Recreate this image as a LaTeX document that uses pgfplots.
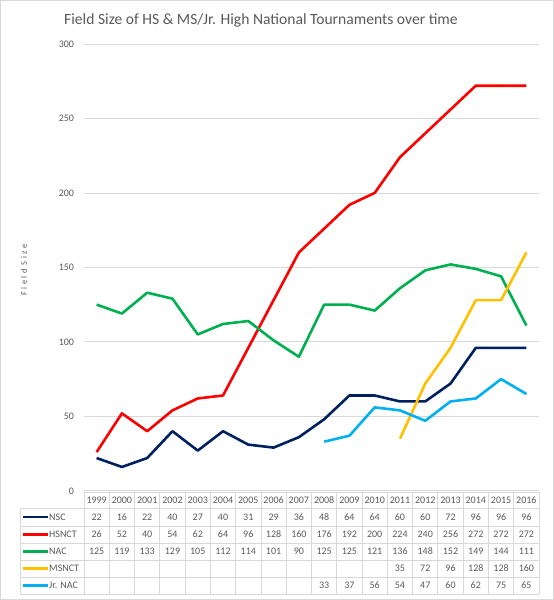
\documentclass[border=0pt]{standalone}
\usepackage{pgfplots}
\pgfplotsset{compat=1.18}
\usepackage{fontspec}
\setmainfont{Carlito}
\definecolor{nsc}{HTML}{002060}
\definecolor{hsnct}{HTML}{FF0000}
\definecolor{nac}{HTML}{00B050}
\definecolor{msnct}{HTML}{FFC000}
\definecolor{jrnac}{HTML}{00B0F0}
\definecolor{txt}{HTML}{595959}
\definecolor{grid}{HTML}{D9D9D9}
\begin{document}
\begin{tikzpicture}[x=1pt,y=1pt]
\draw[draw=grid, line width=1pt] (0.5,0.5) rectangle (553.5,599.5);
\begin{axis}[at={(84pt,109.2pt)}, anchor=south west, scale only axis,
  width=455pt, height=446.8pt, xmin=-0.5, xmax=17.5, ymin=0, ymax=300,
  ytick={0,50,...,300}, xtick=\empty, axis line style={draw=none},
  ymajorgrids, grid style={color=grid, line width=0.8pt}, major tick length=0pt,
  yticklabel style={font=\fontsize{10}{12}\selectfont, text=txt, xshift=-6.5pt},
  /pgf/number format/assume math mode=true,
  every axis plot/.append style={line width=2.6pt, no markers, line join=round}]
\addplot[nsc] coordinates {(0,22)(1,16)(2,22)(3,40)(4,27)(5,40)(6,31)(7,29)(8,36)(9,48)(10,64)(11,64)(12,60)(13,60)(14,72)(15,96)(16,96)(17,96)};
\addplot[hsnct] coordinates {(0,26)(1,52)(2,40)(3,54)(4,62)(5,64)(6,96)(7,128)(8,160)(9,176)(10,192)(11,200)(12,224)(13,240)(14,256)(15,272)(16,272)(17,272)};
\addplot[nac] coordinates {(0,125)(1,119)(2,133)(3,129)(4,105)(5,112)(6,114)(7,101)(8,90)(9,125)(10,125)(11,121)(12,136)(13,148)(14,152)(15,149)(16,144)(17,111)};
\addplot[msnct] coordinates {(12,35)(13,72)(14,96)(15,128)(16,128)(17,160)};
\addplot[jrnac] coordinates {(9,33)(10,37)(11,56)(12,54)(13,47)(14,60)(15,62)(16,75)(17,65)};
\end{axis}
\node[text=txt, font=\fontsize{15.6}{17}\selectfont] at (261,580) {Field Size of HS \& MS/Jr. High National Tournaments over time};
\node[text=txt, rotate=90, font=\fontsize{8.5}{9}\selectfont\addfontfeature{LetterSpace=28}] at (24,330) {Field Size};
% table grid
\def\cw{25.2778}
\draw[grid, line width=0.8pt] (84,108) -- (539,108);
\foreach \yy in {92,74,57,40,23,6} {\draw[grid, line width=0.8pt] (20,\yy) -- (539,\yy);}
\foreach \k in {0,...,18} {\draw[grid, line width=0.8pt] ({84+\k*\cw},108) -- ({84+\k*\cw},6);}
\draw[grid, line width=0.8pt] (20,92) -- (20,6);
\begin{scope}[every node/.style={text=txt, font=\fontsize{10}{12}\selectfont, inner sep=0pt}]
\foreach \v [count=\i from 0] in {1999,2000,2001,2002,2003,2004,2005,2006,2007,2008,2009,2010,2011,2012,2013,2014,2015,2016}
  {\node at ({84+(\i+0.5)*\cw},100) {\v};}
\foreach \v [count=\i from 0] in {22,16,22,40,27,40,31,29,36,48,64,64,60,60,72,96,96,96}
  {\node at ({84+(\i+0.5)*\cw},83) {\v};}
\foreach \v [count=\i from 0] in {26,52,40,54,62,64,96,128,160,176,192,200,224,240,256,272,272,272}
  {\node at ({84+(\i+0.5)*\cw},65.5) {\v};}
\foreach \v [count=\i from 0] in {125,119,133,129,105,112,114,101,90,125,125,121,136,148,152,149,144,111}
  {\node at ({84+(\i+0.5)*\cw},48.5) {\v};}
\foreach \v [count=\i from 12] in {35,72,96,128,128,160}
  {\node at ({84+(\i+0.5)*\cw},31.5) {\v};}
\foreach \v [count=\i from 9] in {33,37,56,54,47,60,62,75,65}
  {\node at ({84+(\i+0.5)*\cw},14.5) {\v};}
\draw[nsc, line width=2.2pt] (23,83) -- (48,83); \node[anchor=west] at (49,83) {NSC};
\draw[hsnct, line width=2.2pt] (23,65.5) -- (48,65.5); \node[anchor=west] at (49,65.5) {HSNCT};
\draw[nac, line width=2.2pt] (23,48.5) -- (48,48.5); \node[anchor=west] at (49,48.5) {NAC};
\draw[msnct, line width=2.2pt] (23,31.5) -- (48,31.5); \node[anchor=west] at (49,31.5) {MSNCT};
\draw[jrnac, line width=2.2pt] (23,14.5) -- (48,14.5); \node[anchor=west] at (49,14.5) {Jr. NAC};
\end{scope}
\end{tikzpicture}
\end{document}
